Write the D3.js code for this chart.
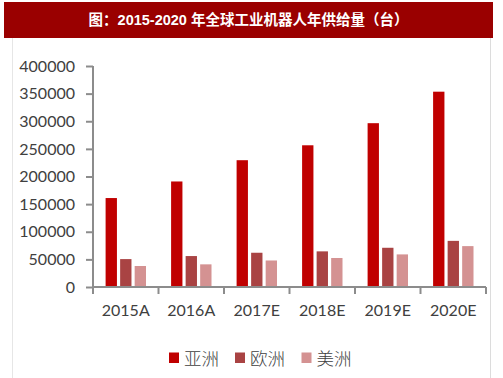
<!DOCTYPE html>
<html><head><meta charset="utf-8">
<script src="https://cdn.jsdelivr.net/npm/d3@7/dist/d3.min.js"></script>
<style>
html,body{margin:0;padding:0;background:#fff;}
svg{display:block;}
</style></head>
<body>
<script>
const categories = ["2015A","2016A","2017E","2018E","2019E","2020E"];
const seriesNames = ["亚洲","欧洲","美洲"];
const asia = [161000,191000,229500,256500,296500,353500];
const europe = [50500,56000,62000,64500,71000,83500];
const americas = [38000,41000,48000,52500,59000,74000];
const yTicks = [0,50000,100000,150000,200000,250000,300000,350000,400000];
const titleText = "图：2015-2020 年全球工业机器人年供给量（台）";

const seriesValues = [asia, europe, americas];
const colors = ["#C00000","#A94343","#D49292"];

const W = 503, H = 378;
const svg = d3.select("body").append("svg").attr("width", W).attr("height", H);

// frame lines
svg.append("line").attr("x1",12.5).attr("x2",12.5).attr("y1",38).attr("y2",H).attr("stroke","#e6e6e6").attr("stroke-width",1);
svg.append("line").attr("x1",490.5).attr("x2",490.5).attr("y1",38).attr("y2",H).attr("stroke","#dcdcdc").attr("stroke-width",1);

// title bar
svg.append("rect").attr("x",4).attr("y",2).attr("width",489).attr("height",36).attr("fill","#9A0000");
svg.append("text").attr("x",248.5).attr("y",20).attr("text-anchor","middle").attr("dominant-baseline","central")
  .attr("fill","#fff").attr("font-weight","bold").attr("font-size","14.5px")
  .attr("font-family","'Liberation Sans','Noto Sans CJK SC',sans-serif").text(titleText);

const x0 = d3.scaleBand().domain(categories).range([93, 486]).paddingInner(0).paddingOuter(0);
const x1 = d3.scaleBand().domain(seriesNames).range([12.6, 53]).paddingInner(0.22).paddingOuter(0);
const y = d3.scaleLinear().domain([0,400000]).range([287, 66]);

const rows = categories.map((c,i)=>({cat:c, vals: seriesNames.map((s,j)=>({s, v: seriesValues[j][i], j}))}));

const g = svg.append("g");
g.selectAll("g.grp").data(rows).enter().append("g").attr("class","grp")
  .attr("transform", d=>`translate(${x0(d.cat)},0)`)
  .selectAll("rect").data(d=>d.vals).enter().append("rect")
  .attr("x", d=>x1(d.s)).attr("width", x1.bandwidth())
  .attr("y", d=>y(d.v)).attr("height", d=>y(0)-y(d.v))
  .attr("fill", d=>colors[d.j]);

const fontLbl = "Lato,'Open Sans',sans-serif";

// y axis
const yAxis = svg.append("g").attr("transform","translate(93,0)")
  .call(d3.axisLeft(y).tickValues(yTicks).tickSize(7).tickPadding(11).tickFormat(d3.format("d")));
yAxis.selectAll("path,line").attr("stroke","#8c8c8c").attr("stroke-width",2);
yAxis.select(".domain").attr("d","M0,287V66");
yAxis.selectAll("text").attr("fill","#404040").attr("font-size","16px").attr("font-family",fontLbl);

// x axis
const xAxis = svg.append("g").attr("transform","translate(0,287)")
  .call(d3.axisBottom(x0).tickSize(0).tickPadding(18));
xAxis.select(".domain").attr("stroke","#8c8c8c").attr("stroke-width",2).attr("d","M93,0H486");
xAxis.selectAll("text").attr("fill","#404040").attr("font-size","16px").attr("font-family",fontLbl);
const bounds = categories.map(c=>x0(c)).concat([486]);
svg.append("g").selectAll("line").data(bounds).enter().append("line")
  .attr("x1",d=>d).attr("x2",d=>d).attr("y1",287).attr("y2",294)
  .attr("stroke","#8c8c8c").attr("stroke-width",2);

// legend
const legX = [169, 235, 301.5];
const leg = svg.append("g").selectAll("g").data(seriesNames).enter().append("g")
  .attr("transform",(d,i)=>`translate(${legX[i]},352.5)`);
leg.append("rect").attr("width",10).attr("height",10.5).attr("fill",(d,i)=>colors[i]);
leg.append("text").attr("x",15).attr("y",5).attr("dominant-baseline","central")
  .attr("font-size","17.5px").attr("fill","#404040")
  .attr("font-family","'Noto Sans CJK SC',sans-serif").attr("font-weight",300).text(d=>d);
</script>
</body></html>
